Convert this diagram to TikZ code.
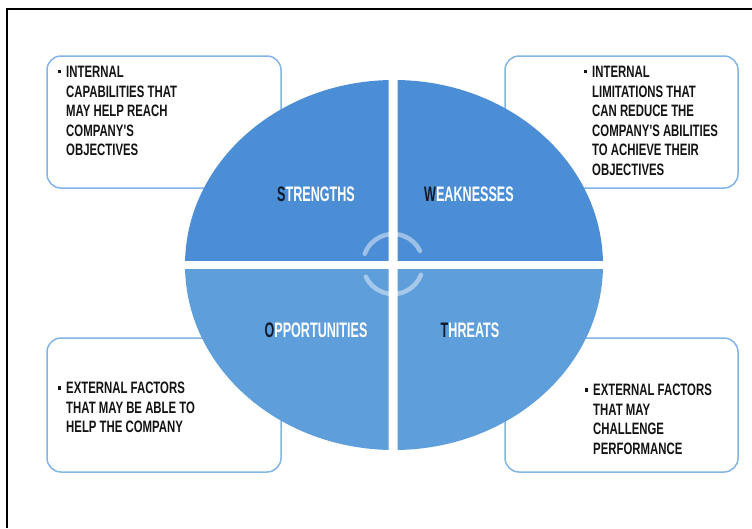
\documentclass[tikz,border=0pt]{standalone}
\usepackage{fontspec}
\newfontfamily\swotfont{Liberation Sans}[FakeStretch=0.69]
\newfontfamily\swotlabelfont{Liberation Sans}[FakeStretch=0.6]
\definecolor{boxline}{HTML}{82B4E6}
\definecolor{boxink}{HTML}{141414}
\definecolor{upblue}{HTML}{4B8ED5}
\definecolor{lowblue}{HTML}{5E9EDB}
\definecolor{initial}{HTML}{101A2A}
\newcommand\swotbul{\makebox[8pt][l]{\rule[4.2pt]{3.2pt}{3.2pt}}}
\newcommand\swotind{\hspace*{8pt}}

\begin{document}
\begin{tikzpicture}[x=1pt,y=-1pt,
    swotbox/.style={draw=boxline,line width=1.5pt,rounded corners=14pt,fill=white},
    boxtext/.style={anchor=north west,inner sep=0pt,align=left,text=boxink,
        font=\swotfont\bfseries\fontsize{16.5}{19.5}\selectfont},
    swotlabel/.style={inner sep=0pt,text=white,
        font=\swotlabelfont\bfseries\fontsize{21}{24}\selectfont},
    arrowring/.style={draw=white,draw opacity=0.45,line width=4.5pt,line cap=round}]
    \useasboundingbox (0,0) rectangle (752,528);
    % frame
    \draw[line width=2pt] (7,528) -- (7,9) -- (752,9);
    % text boxes
    \draw[swotbox] (47,56) rectangle (281,188);
    \draw[swotbox] (505,56) rectangle (738,188);
    \draw[swotbox] (47,338) rectangle (281,472);
    \draw[swotbox] (505,338) rectangle (738,472);
    \node[boxtext](stext)at(58,66){\swotbul INTERNAL\\ \swotind CAPABILITIES THAT\\ \swotind MAY HELP REACH\\ \swotind COMPANY'S\\ \swotind OBJECTIVES};
    \node[boxtext](wtext)at(584,66){\swotbul INTERNAL\\ \swotind LIMITATIONS THAT\\ \swotind CAN REDUCE THE\\ \swotind COMPANY'S ABILITIES\\ \swotind TO ACHIEVE THEIR\\ \swotind OBJECTIVES};
    \node[boxtext](otext)at(58,382){\swotbul EXTERNAL FACTORS\\ \swotind THAT MAY BE ABLE TO\\ \swotind HELP THE COMPANY};
    \node[boxtext](ttext)at(585,384){\swotbul EXTERNAL FACTORS\\ \swotind THAT MAY\\ \swotind CHALLENGE\\ \swotind PERFORMANCE};
    % quadrants of the ellipse
    \coordinate (mid) at (394,265);
    \foreach \xa/\xb/\ya/\yb/\col in {180/388.5/70/260/upblue, 397.5/620/70/260/upblue,
                                      180/388.5/269/460/lowblue, 397.5/620/269/460/lowblue}{
        \begin{scope}
            \clip (\xa,\ya) rectangle (\xb,\yb);
            \fill[\col] (mid) ellipse [x radius=209pt,y radius=185pt];
        \end{scope}
    }
    % labels
    \node[swotlabel](S)at(316,194){\textcolor{initial}{S}TRENGTHS};
    \node[swotlabel](W)at(469,194){\textcolor{initial}{W}EAKNESSES};
    \node[swotlabel](O)at(316,330){\textcolor{initial}{O}PPORTUNITIES};
    \node[swotlabel](T)at(470,330){\textcolor{initial}{T}HREATS};
    % centre ring
    \coordinate (ring) at (393,264);
    \draw[arrowring] ([shift={(160:30pt)}]ring) arc[start angle=160,end angle=26,radius=30pt];
    \draw[arrowring] ([shift={(205:30pt)}]ring) arc[start angle=205,end angle=339,radius=30pt];
\end{tikzpicture}
\end{document}
